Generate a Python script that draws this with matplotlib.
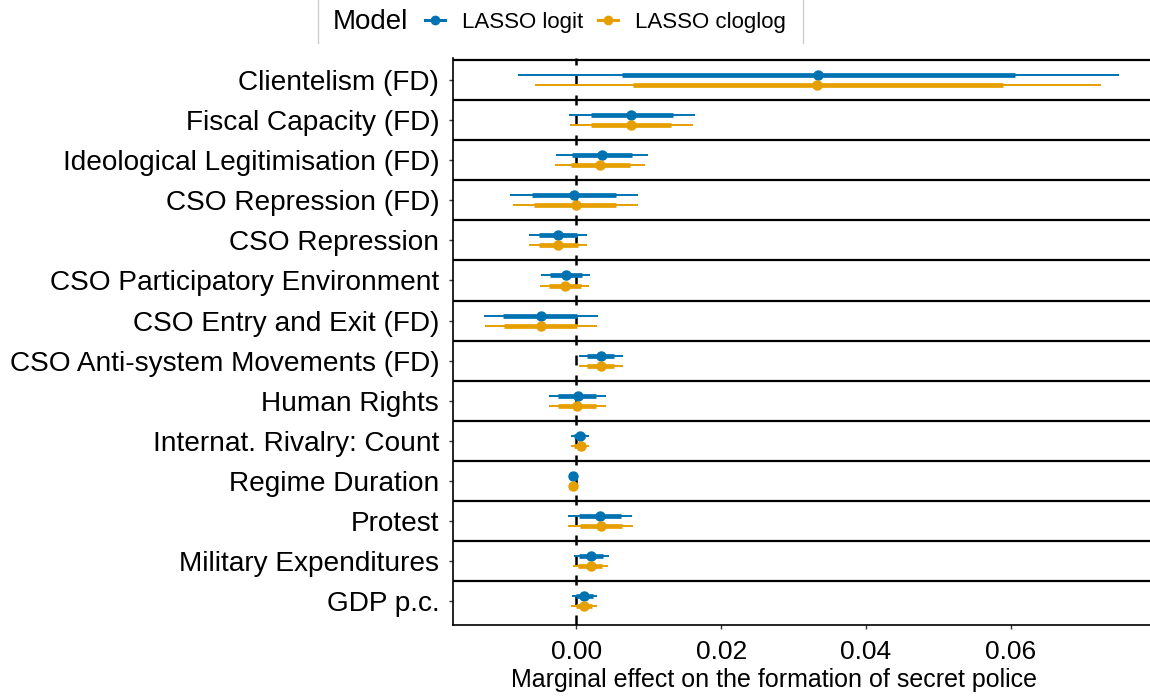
import matplotlib
matplotlib.use("Agg")
import matplotlib.pyplot as plt
from matplotlib.lines import Line2D
import numpy as np

plt.rcParams['font.family'] = ['Liberation Sans', 'DejaVu Sans']

terms = ['Clientelism (FD)', 'Fiscal Capacity (FD)', 'Ideological Legitimisation (FD)',
         'CSO Repression (FD)', 'CSO Repression', 'CSO Participatory Environment',
         'CSO Entry and Exit (FD)', 'CSO Anti-system Movements (FD)', 'Human Rights',
         'Internat. Rivalry: Count', 'Regime Duration', 'Protest',
         'Military Expenditures', 'GDP p.c.']

# LASSO logit
logit_est = [0.0334, 0.0076, 0.0036, -0.0003, -0.0025, -0.0014, -0.0048, 0.0034, 0.0002, 0.0005, -0.0004, 0.0033, 0.0021, 0.0011]
logit_lo95 = [-0.0080, -0.0010, -0.0028, -0.0091, -0.0065, -0.0048, -0.0127, 0.0004, -0.0037, -0.0007, -0.0005, -0.0011, -0.0003, -0.0006]
logit_hi95 = [0.0749, 0.0164, 0.0099, 0.0085, 0.0015, 0.0019, 0.0030, 0.0064, 0.0041, 0.0017, -0.0003, 0.0077, 0.0045, 0.0029]
logit_lo90 = [0.0063, 0.0021, -0.0006, -0.0061, -0.0051, -0.0036, -0.0101, 0.0015, -0.0025, -0.0003, -0.0005, 0.0004, 0.0004, 0.0000]
logit_hi90 = [0.0606, 0.0134, 0.0077, 0.0055, 0.0001, 0.0008, 0.0001, 0.0052, 0.0027, 0.0012, -0.0003, 0.0062, 0.0037, 0.0023]

# LASSO cloglog
clog_est = [0.0333, 0.0075, 0.0033, -0.0001, -0.0025, -0.0016, -0.0049, 0.0034, 0.0001, 0.0006, -0.0004, 0.0034, 0.0020, 0.0011]
clog_lo95 = [-0.0057, -0.0009, -0.0030, -0.0088, -0.0065, -0.0050, -0.0126, 0.0004, -0.0037, -0.0007, -0.0005, -0.0011, -0.0004, -0.0007]
clog_hi95 = [0.0724, 0.0161, 0.0095, 0.0085, 0.0015, 0.0018, 0.0029, 0.0064, 0.0041, 0.0017, -0.0003, 0.0079, 0.0044, 0.0028]
clog_lo90 = [0.0079, 0.0021, -0.0007, -0.0059, -0.0051, -0.0037, -0.0100, 0.0015, -0.0025, -0.0003, -0.0005, 0.0005, 0.0003, -0.0001]
clog_hi90 = [0.0589, 0.0131, 0.0074, 0.0055, 0.0002, 0.0006, 0.0001, 0.0052, 0.0027, 0.0012, -0.0003, 0.0063, 0.0036, 0.0022]

blue = '#0072B2'
orange = '#E69F00'

fig = plt.figure(figsize=(11.5, 7), dpi=100)
ax = fig.add_axes([0.394, 0.107, 0.606, 0.81])

y = np.arange(len(terms))
models = [
    ('LASSO logit', blue, -0.125, logit_est, logit_lo95, logit_hi95, logit_lo90, logit_hi90),
    ('LASSO cloglog', orange, 0.125, clog_est, clog_lo95, clog_hi95, clog_lo90, clog_hi90),
]

# row separators
for i in range(len(terms)):
    ax.axhline(i - 0.5, color='black', lw=1.6, zorder=1)

ax.axvline(0, color='black', lw=1.8, ls=(0, (4, 4)), zorder=2)

for name, col, off, est, lo95, hi95, lo90, hi90 in models:
    yy = y + off
    ax.hlines(yy, lo95, hi95, color=col, lw=1.4, zorder=3)
    ax.hlines(yy, lo90, hi90, color=col, lw=3.4, zorder=4)
    ax.plot(est, yy, 'o', color=col, ms=6.5, zorder=5)

ax.set_yticks(y)
ax.set_yticklabels(terms, fontsize=20.2)
ax.set_ylim(13.6, -0.55)
ax.set_xlim(-0.017, 0.0792)
ax.set_xticks([0.0, 0.02, 0.04, 0.06])
ax.set_xticklabels(['0.00', '0.02', '0.04', '0.06'], fontsize=19)
ax.set_xlabel('Marginal effect on the formation of secret police', fontsize=18)
ax.xaxis.set_label_coords((774 - 453) / 697, -0.076, transform=ax.transAxes)
ax.xaxis.label.set_va('top')
ax.tick_params(axis='y', color='#333333', length=3, width=1, pad=7)
ax.tick_params(axis='x', color='#333333', length=3, width=1, pad=8)
for s in ['top', 'right']:
    ax.spines[s].set_visible(False)
ax.spines['left'].set_linewidth(1.2)
ax.spines['bottom'].set_linewidth(1.2)

handles = [Line2D([], [], color=c, marker='o', ms=6, lw=2.2) for _, c, *_ in models]
labels = [m[0] for m in models]
leg = fig.legend(handles, labels, loc='center left', bbox_to_anchor=(425 / 1150, 0.968),
                 ncol=2, frameon=False, fontsize=16, handlelength=0.9, borderpad=0,
                 borderaxespad=0, handletextpad=0.75, columnspacing=0.7)
fig.text(333 / 1150, 0.968, 'Model', fontsize=20, va='center', ha='left')
for xf in [318 / 1150, 803 / 1150]:
    fig.add_artist(Line2D([xf, xf], [0.938, 1.0], color='#cccccc', lw=1))

fig.savefig('out.png', dpi=100)
